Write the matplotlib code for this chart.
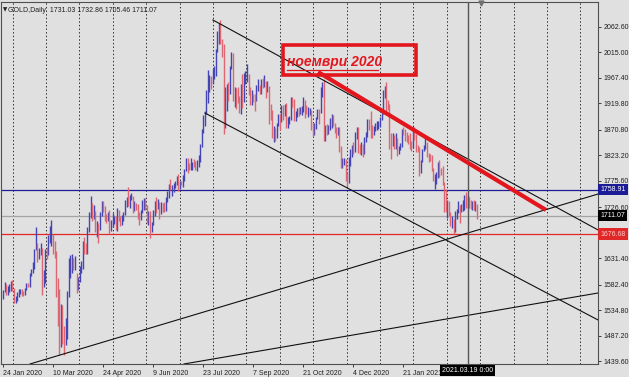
import numpy as np
import matplotlib.pyplot as plt
from matplotlib.patches import Rectangle

plt.rcParams['font.family'] = ['Liberation Sans', 'DejaVu Sans']

# GOLD, Daily - bars from 24 Jan 2020 to 29 Mar 2021
highs = [
    # Jan 2020
    1573, 1588, 1583, 1580, 1584, 1590,
    # Feb
    1592, 1576, 1562, 1568, 1574, 1575, 1574, 1570, 1577, 1586, 1586, 1604, 1612, 1624, 1649, 1689, 1660, 1650, 1660, 1650,
    # Mar
    1610, 1648, 1653, 1674, 1692, 1703, 1677, 1663, 1646, 1595, 1575, 1547, 1545, 1505, 1520, 1571, 1632, 1638, 1640, 1633, 1635, 1605,
    # Apr
    1597, 1617, 1626, 1664, 1671, 1660, 1690, 1717, 1747, 1735, 1730, 1720, 1700, 1698, 1717, 1738, 1738, 1729, 1714, 1717, 1722,
    # May
    1702, 1715, 1711, 1710, 1726, 1722, 1710, 1712, 1717, 1740, 1746, 1765, 1750, 1753, 1748, 1738, 1735, 1733, 1717, 1722, 1740,
    # Jun
    1743, 1744, 1730, 1719, 1719, 1699, 1721, 1739, 1745, 1742, 1736, 1737, 1735, 1737, 1746, 1757, 1769, 1779, 1767, 1772, 1775, 1785,
    # Jul
    1789, 1775, 1776, 1786, 1797, 1818, 1818, 1809, 1818, 1810, 1816, 1812, 1815, 1823, 1844, 1872, 1898, 1906, 1945, 1981, 1973, 1970, 1984,
    # Aug
    1990, 2020, 2055, 2069, 2075, 2040, 2030, 1950, 1956, 1960, 1990, 2015, 2013, 1950, 1948, 1950, 1933, 1956, 1975, 1976, 1980,
    # Sep
    1992, 1974, 1950, 1945, 1937, 1938, 1954, 1965, 1953, 1965, 1966, 1973, 1961, 1961, 1952, 1918, 1907, 1877, 1873, 1883, 1899, 1900,
    # Oct
    1916, 1917, 1918, 1920, 1894, 1897, 1932, 1932, 1927, 1905, 1911, 1913, 1912, 1914, 1931, 1926, 1916, 1912, 1911, 1908, 1883, 1884,
    # Nov
    1895, 1910, 1910, 1951, 1960, 1965, 1880, 1881, 1880, 1892, 1900, 1898, 1883, 1875, 1875, 1875, 1840, 1818, 1818, 1817, 1790,
    # Dec
    1820, 1834, 1843, 1848, 1866, 1875, 1875, 1845, 1848, 1845, 1857, 1866, 1891, 1890, 1906, 1880, 1877, 1883, 1887, 1886, 1895, 1901,
    # Jan 2021
    1945, 1952, 1959, 1926, 1918, 1865, 1864, 1860, 1864, 1855, 1840, 1846, 1872, 1875, 1872, 1867, 1861, 1865, 1850, 1875,
    # Feb
    1875, 1862, 1843, 1838, 1815, 1835, 1843, 1855, 1848, 1828, 1825, 1823, 1800, 1788, 1792, 1810, 1815, 1800, 1804, 1773,
    # Mar
    1760, 1740, 1738, 1718, 1710, 1705, 1720, 1724, 1739, 1730, 1732, 1740, 1750, 1755, 1748, 1745, 1740, 1738, 1740, 1739, 1732.86,
]
lows = [
    1556, 1568, 1563, 1564, 1568, 1570,
    1570, 1548, 1548, 1552, 1560, 1565, 1562, 1562, 1564, 1572, 1578, 1578, 1598, 1605, 1612, 1647, 1625, 1630, 1637, 1563,
    1578, 1586, 1630, 1637, 1660, 1655, 1640, 1632, 1560, 1505, 1451, 1467, 1472, 1451, 1470, 1482, 1560, 1595, 1605, 1610, 1610, 1567,
    1573, 1588, 1605, 1612, 1640, 1640, 1640, 1680, 1707, 1700, 1705, 1680, 1672, 1660, 1685, 1710, 1718, 1700, 1697, 1700, 1677,
    1683, 1690, 1695, 1684, 1683, 1700, 1691, 1693, 1700, 1712, 1727, 1729, 1726, 1740, 1715, 1720, 1722, 1705, 1693, 1702, 1716,
    1721, 1722, 1697, 1693, 1670, 1680, 1694, 1711, 1716, 1724, 1704, 1714, 1718, 1717, 1720, 1737, 1743, 1758, 1748, 1755, 1763, 1768,
    1757, 1760, 1767, 1764, 1775, 1793, 1790, 1795, 1795, 1795, 1801, 1795, 1794, 1802, 1810, 1838, 1865, 1877, 1900, 1920, 1940, 1947, 1956,
    1965, 1970, 2015, 2030, 2030, 2005, 1863, 1874, 1906, 1924, 1938, 1983, 1925, 1912, 1910, 1920, 1902, 1900, 1911, 1923, 1955,
    1960, 1936, 1916, 1916, 1922, 1906, 1925, 1943, 1937, 1938, 1948, 1951, 1930, 1940, 1882, 1889, 1855, 1848, 1849, 1855, 1877, 1871,
    1885, 1889, 1897, 1874, 1873, 1882, 1889, 1912, 1886, 1887, 1894, 1896, 1899, 1898, 1903, 1892, 1900, 1894, 1898, 1870, 1859, 1860,
    1872, 1890, 1882, 1902, 1932, 1850, 1850, 1861, 1862, 1870, 1873, 1877, 1865, 1856, 1860, 1830, 1800, 1800, 1805, 1775, 1764,
    1772, 1804, 1820, 1826, 1830, 1854, 1828, 1825, 1823, 1820, 1825, 1847, 1858, 1870, 1856, 1855, 1860, 1868, 1870, 1872, 1876, 1888,
    1900, 1930, 1901, 1907, 1835, 1817, 1840, 1835, 1834, 1822, 1825, 1833, 1838, 1860, 1850, 1848, 1845, 1835, 1832, 1836,
    1852, 1830, 1829, 1785, 1791, 1810, 1831, 1835, 1820, 1810, 1812, 1793, 1775, 1760, 1770, 1780, 1782, 1786, 1767, 1718,
    1717, 1706, 1710, 1692, 1687, 1676, 1680, 1704, 1716, 1697, 1718, 1720, 1722, 1725, 1725, 1726, 1723, 1722, 1722, 1720, 1705.46,
]
closes = [
    1571, 1582, 1567, 1576, 1576, 1589,
    1576, 1553, 1556, 1566, 1570, 1572, 1567, 1565, 1575, 1584, 1581, 1602, 1611, 1620, 1643, 1658, 1635, 1642, 1643, 1585,
    1596, 1640, 1637, 1672, 1673, 1679, 1649, 1635, 1575, 1530, 1515, 1528, 1478, 1471, 1498, 1564, 1609, 1617, 1629, 1619, 1622, 1577,
    1590, 1615, 1620, 1661, 1648, 1645, 1683, 1713, 1727, 1716, 1717, 1683, 1695, 1687, 1713, 1730, 1728, 1713, 1707, 1713, 1686,
    1700, 1702, 1705, 1686, 1725, 1702, 1697, 1702, 1715, 1730, 1743, 1731, 1745, 1747, 1725, 1734, 1728, 1710, 1708, 1718, 1730,
    1740, 1727, 1700, 1713, 1684, 1698, 1715, 1738, 1728, 1729, 1726, 1727, 1726, 1723, 1742, 1753, 1768, 1761, 1763, 1771, 1772, 1781,
    1770, 1775, 1772, 1784, 1795, 1809, 1803, 1798, 1802, 1809, 1808, 1796, 1810, 1817, 1842, 1871, 1887, 1901, 1943, 1958, 1970, 1958, 1975,
    1975, 2018, 2038, 2063, 2035, 2028, 1912, 1914, 1953, 1944, 1985, 2000, 1929, 1946, 1940, 1928, 1908, 1953, 1929, 1964, 1968,
    1970, 1943, 1930, 1934, 1931, 1930, 1946, 1946, 1940, 1955, 1954, 1960, 1945, 1950, 1912, 1900, 1863, 1868, 1861, 1880, 1897, 1886,
    1906, 1900, 1914, 1877, 1888, 1893, 1930, 1922, 1891, 1901, 1908, 1899, 1905, 1906, 1924, 1904, 1902, 1902, 1907, 1877, 1868, 1878,
    1894, 1908, 1904, 1948, 1951, 1862, 1877, 1866, 1873, 1888, 1888, 1880, 1872, 1866, 1871, 1837, 1805, 1811, 1812, 1788, 1776,
    1815, 1830, 1840, 1839, 1863, 1871, 1838, 1837, 1839, 1828, 1855, 1863, 1886, 1882, 1878, 1865, 1870, 1877, 1878, 1881, 1893, 1898,
    1943, 1950, 1917, 1913, 1849, 1844, 1855, 1844, 1851, 1828, 1840, 1840, 1870, 1869, 1856, 1855, 1850, 1844, 1843, 1863,
    1860, 1835, 1834, 1792, 1814, 1832, 1838, 1843, 1826, 1823, 1818, 1795, 1775, 1776, 1784, 1808, 1805, 1797, 1770, 1734,
    1723, 1738, 1712, 1699, 1700, 1683, 1716, 1718, 1726, 1719, 1731, 1731, 1745, 1735, 1745, 1738, 1727, 1734, 1726, 1732, 1711.07,
]
first_open = 1566.0

date_labels = ["24 Jan 2020", "10 Mar 2020", "24 Apr 2020", "9 Jun 2020", "23 Jul 2020",
               "7 Sep 2020", "21 Oct 2020", "4 Dec 2020", "21 Jan 2021"]
price_ticks = [2062.60, 2015.00, 1967.40, 1919.80, 1870.80, 1823.20, 1775.60,
               1726.60, 1631.40, 1582.40, 1534.80, 1487.20, 1439.60]

level_blue = 1758.91
level_bid = 1711.07
level_red = 1676.68
cursor_bar = 297  # 2021.03.19

# trend lines: (bar index, price) endpoints
upper_channel = ([134.2, 380.4], [2074.7, 1684.2])
lower_channel = ([129.1, 380.4], [1901.7, 1516.8])
support_steep = ([17.3, 380.4], [1435.0, 1751.1])
support_flat = ([115.7, 380.4], [1435.0, 1567.0])
red_trend = ([201.4, 347.1], [1978.0, 1721.4])
note_box = (178.7, 1972.4, 264.3, 2029.1)  # x0, y0, x1, y1
note_text = "ноември 2020"

# colours
bg = '#e0e0e0'
up_col = '#4444b4'
dn_col = '#de6672'
red = '#e3161e'

fig = plt.figure(figsize=(6.29, 3.77), dpi=100, facecolor=bg)
ax = fig.add_axes([1 / 629, 13 / 377, 597 / 629, 362 / 377], facecolor=bg)

n = len(closes)
x = np.arange(n)
hi = np.array(highs, float)
lo = np.array(lows, float)
cl = np.array(closes, float)
op = np.r_[first_open, cl[:-1]]
up = cl >= op

# vertical dotted grid
for gx in np.arange(6.2, 380, 21.35):
    ax.axvline(gx, color='#303030', lw=0.7, ls=(0, (1.5, 2.2)), zorder=1)

ax.axhline(level_blue, color='#1c1c96', lw=0.9, zorder=2)
ax.axhline(level_bid, color='#a4a4a4', lw=0.9, zorder=2)
ax.axhline(level_red, color='#e02828', lw=0.9, zorder=2)

ax.vlines(x[up], lo[up], hi[up], color=up_col, lw=1.0, zorder=3)
ax.vlines(x[~up], lo[~up], hi[~up], color=dn_col, lw=1.0, zorder=3)

for xs, ys in [upper_channel, lower_channel, support_steep, support_flat]:
    ax.plot(xs, ys, color='#101010', lw=0.8, zorder=4)

ax.axvline(cursor_bar, color='#555555', lw=1.0, zorder=4)

ax.plot(red_trend[0], red_trend[1], color=red, lw=3.0, solid_capstyle='butt', zorder=5)
bx0, by0, bx1, by1 = note_box
ax.add_patch(Rectangle((bx0, by0), bx1 - bx0, by1 - by0, fill=False, ec=red, lw=2.6, zorder=5))
ax.text(181.6, 1995.7, note_text, color=red, fontsize=10, fontweight='bold',
        fontstyle='italic', ha='left', va='center', zorder=6)
ax.plot([181.6, 239.7], [1981.7, 1981.7], color=red, lw=0.9, zorder=6)

ax.set_xlim(-1.28, 380.35)
ax.set_ylim(1434.95, 2108.2)

# axes / ticks
for s in ax.spines.values():
    s.set_color('#505050')
    s.set_linewidth(0.8)
ax.yaxis.tick_right()
ax.set_yticks(price_ticks)
ax.set_yticklabels([f'{v:.2f}' for v in price_ticks])
ax.set_xticks(np.arange(len(date_labels)) * 32)
ax.set_xticklabels(date_labels)
for lab in ax.get_xticklabels():
    lab.set_ha('left')
ax.tick_params(axis='y', length=2.5, width=0.6, pad=1.5, labelsize=5, colors='#202020')
ax.tick_params(axis='x', length=2.5, width=0.6, pad=1.5, labelsize=5, colors='#202020')

# price tags on the right scale
for val, fc, tc in [(level_blue, '#1c1c96', 'white'), (level_bid, 'black', 'white'),
                    (level_red, '#e02828', '#ffc8c8')]:
    ax.text(1.004, val, f'{val:.2f}', transform=ax.get_yaxis_transform(), ha='left',
            va='center', fontsize=5, color=tc, clip_on=False, zorder=10,
            bbox=dict(boxstyle='square,pad=0.3', fc=fc, ec='none'))

# cursor date tag
ax.text(cursor_bar, -0.017, '2021.03.19 0:00', transform=ax.get_xaxis_transform(),
        ha='center', va='center', fontsize=5, color='white', clip_on=False, zorder=10,
        bbox=dict(boxstyle='square,pad=0.3', fc='black', ec='none'))

# chart header
ax.text(0.004, 0.985, '▼', transform=ax.transAxes, fontsize=4, va='top', ha='left',
        color='#202020', family='DejaVu Sans')
ax.text(0.012, 0.986, 'GOLD,Daily  1731.03 1732.86 1705.46 1711.07', transform=ax.transAxes,
        fontsize=5, va='top', ha='left', color='#202020')
ax.plot([305.5], [2106], marker='v', ms=3.5, color='#707070', clip_on=False, zorder=7)

fig.savefig('out.png', dpi=100, facecolor=bg)
